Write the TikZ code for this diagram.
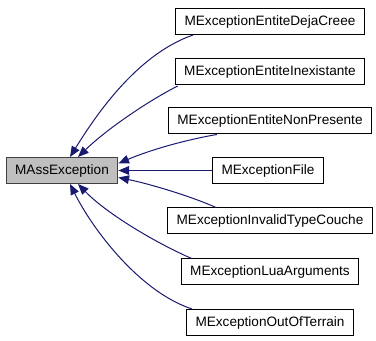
\documentclass[tikz,border=0pt]{standalone}
\usepackage{fontspec}
\setmainfont{Liberation Sans}
\usetikzlibrary{arrows.meta}

\definecolor{edgeblue}{RGB}{25,25,112}
\definecolor{basegray}{RGB}{191,191,191}
\definecolor{baseframe}{RGB}{64,64,64}

\begin{document}
\begin{tikzpicture}[x=0.75pt,y=-0.75pt,
  cls/.style={draw=black,fill=white,line width=0.75pt,inner xsep=6.75pt,
    minimum height=19.5pt,font=\fontsize{10.2}{12}\selectfont},
  basecls/.style={cls,draw=baseframe,fill=basegray},
  inherit/.style={draw=edgeblue,line width=0.75pt,
    {Triangle[length=8pt,width=6.5pt]}-}]
\useasboundingbox (0,0) rectangle (376,341);

% base class
\node[basecls] (base) at (62,170.5) {MAssException};

% derived classes
\def\colx{270}
\node[cls] (dejacreee)   at (\colx,21.5)  {MExceptionEntiteDejaCreee};
\node[cls] (inexistante) at (\colx,71.5)  {MExceptionEntiteInexistante};
\node[cls] (nonpresente) at (\colx,121)   {MExceptionEntiteNonPresente};
\node[cls] (file)        at (268,170.5)   {MExceptionFile};
\node[cls] (invalidtype) at (\colx,221)   {MExceptionInvalidTypeCouche};
\node[cls] (luaargs)     at (\colx,272)   {MExceptionLuaArguments};
\node[cls] (outofterr)   at (\colx,322.5) {MExceptionOutOfTerrain};

% --- inheritance arrows ---
\draw[inherit] ([shift={(8,0)}]base.north)
  .. controls (93,120) and (135,55) .. ([shift={(18,0)}]dejacreee.south west);
\draw[inherit] ([shift={(16,0)}]base.north)
  .. controls (108,128) and (150,100) .. ([shift={(3,1)}]inexistante.south west);
\draw[inherit] ([shift={(0,-7)}]base.east)
  .. controls (150,150) and (185,140) .. ([shift={(49,0)}]nonpresente.south west);
\draw[inherit] (base.east) -- (file.west);
\draw[inherit] ([shift={(0,7)}]base.east)
  .. controls (150,184) and (190,196) .. ([shift={(49,0)}]invalidtype.north west);
\draw[inherit] ([shift={(16,0)}]base.south)
  .. controls (108,215) and (160,245) .. ([shift={(11,0)}]luaargs.north west);
\draw[inherit] ([shift={(8,0)}]base.south)
  .. controls (93,230) and (140,292) .. ([shift={(6,0)}]outofterr.north west);
\end{tikzpicture}
\end{document}
